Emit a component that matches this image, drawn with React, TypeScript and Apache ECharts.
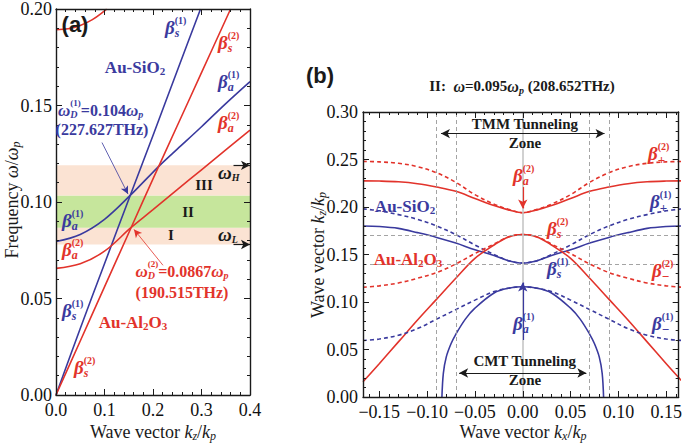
import React, { useEffect, useRef } from 'react';
import * as echarts from 'echarts';

const BLUE = '#3a3a9e';
const RED = '#e2332b';
const INK = '#1a1a1a';
const PEACH = '#fbe3d3';
const GREEN = '#c6e69c';
const SERIF = '"Liberation Serif", "Times New Roman", serif';
const SANS = '"Liberation Sans", Arial, sans-serif';

// ---------- Panel (a): frequency vs kz ----------
const kzBetaS1 = [0, 0.05, 0.1, 0.153, 0.2, 0.25, 0.298];
const wBetaS1 = [0, 0.0345, 0.068, 0.1034, 0.1345, 0.168, 0.2];
const kzBetaS2 = [0, 0.05, 0.1, 0.155, 0.2, 0.25, 0.3, 0.36];
const wBetaS2 = [0, 0.028, 0.056, 0.0868, 0.112, 0.1395, 0.167, 0.2];
const kzBetaA1 = [0, 0.05, 0.1, 0.153, 0.214, 0.25, 0.3, 0.35, 0.4];
const wBetaA1 = [0.0795, 0.0832, 0.091, 0.1034, 0.119, 0.1274, 0.139, 0.151, 0.1624];
const kzBetaA2 = [0, 0.05, 0.1, 0.155, 0.2, 0.25, 0.3, 0.35, 0.4];
const wBetaA2 = [0.0656, 0.068, 0.0745, 0.0868, 0.096, 0.1064, 0.1167, 0.127, 0.1373];
const kzUpper = [0, 0.025, 0.05, 0.075, 0.1, 0.1045];
const wUpper = [0.1893, 0.1898, 0.1915, 0.1945, 0.199, 0.2];
// band edges: omega_L, omega_D(2), omega_D(1), omega_H
const BAND_EDGES = [0.078, 0.0867, 0.1034, 0.119];

// ---------- Panel (b): kz vs kx at omega = 0.095 omega_p ----------
const B_KX = [-0.167, -0.15, -0.13, -0.11, -0.09, -0.07, -0.05, -0.03, -0.015, 0, 0.015, 0.03, 0.05, 0.07, 0.09, 0.11, 0.13, 0.15, 0.167];
const bBetaA2 = [0.2275, 0.2273, 0.2265, 0.2245, 0.221, 0.2165, 0.209, 0.2015, 0.197, 0.194, 0.197, 0.2015, 0.209, 0.2165, 0.221, 0.2245, 0.2265, 0.2273, 0.2275];
const bBetaPlus2 = [0.248, 0.2475, 0.246, 0.2425, 0.236, 0.226, 0.213, 0.203, 0.1975, 0.194, 0.1975, 0.203, 0.213, 0.226, 0.236, 0.2425, 0.246, 0.2475, 0.248];
const bBetaPlus1 = [0.198, 0.196, 0.192, 0.187, 0.18, 0.171, 0.16, 0.15, 0.1435, 0.141, 0.1435, 0.15, 0.16, 0.171, 0.18, 0.187, 0.192, 0.196, 0.198];
const bBetaS1 = [0.18, 0.1795, 0.1775, 0.173, 0.168, 0.162, 0.155, 0.149, 0.1435, 0.141, 0.1435, 0.149, 0.155, 0.162, 0.168, 0.173, 0.1775, 0.1795, 0.18];
const bBetaS2 = [0.016, 0.035, 0.058, 0.081, 0.103, 0.125, 0.146, 0.16, 0.1685, 0.171, 0.1685, 0.16, 0.146, 0.125, 0.103, 0.081, 0.058, 0.035, 0.016];
const bBetaMinus2 = [0.1155, 0.117, 0.12, 0.125, 0.131, 0.14, 0.151, 0.161, 0.1685, 0.171, 0.1685, 0.161, 0.151, 0.14, 0.131, 0.125, 0.12, 0.117, 0.1155];
const bBetaMinus1 = [0.0595, 0.061, 0.065, 0.072, 0.082, 0.092, 0.102, 0.111, 0.1145, 0.116, 0.1145, 0.111, 0.102, 0.092, 0.082, 0.072, 0.065, 0.061, 0.0595];
const B_KX_A1 = [-0.0845, -0.083, -0.08, -0.075, -0.07, -0.06, -0.05, -0.03, -0.015, 0, 0.015, 0.03, 0.05, 0.06, 0.07, 0.075, 0.08, 0.083, 0.0845];
const bBetaA1 = [0, 0.025, 0.042, 0.056, 0.066, 0.082, 0.0935, 0.1095, 0.1145, 0.116, 0.1145, 0.1095, 0.0935, 0.082, 0.066, 0.056, 0.042, 0.025, 0];
const B_VLINES = [-0.0855, -0.0665, 0.0665, 0.0855];
const B_HLINES = [0.171, 0.141];
const B_X_LABELS = [-0.15, -0.1, -0.05, 0, 0.05, 0.1, 0.15];

// ---------- text layout helpers ----------
interface Seg { t: string; size: number; it?: boolean; b?: boolean; dy?: number; ff?: string; }
type Item = Seg | { sup: Seg; sub: Seg };
let ctx2d: CanvasRenderingContext2D | null = null;
function segW(s: Seg) {
  if (!ctx2d) ctx2d = document.createElement('canvas').getContext('2d');
  ctx2d!.font = `${s.it ? 'italic ' : ''}${s.b === false ? '' : 'bold '}${s.size}px ${s.ff || SERIF}`;
  return ctx2d!.measureText(s.t).width;
}
const TOP_Z = 100;
function txt(s: Seg, x: number, color: string) {
  return {
    type: 'text', x, y: s.dy || 0, silent: true, z: TOP_Z,
    style: {
      text: s.t, fill: color, fontSize: s.size, fontFamily: s.ff || SERIF,
      fontStyle: s.it ? 'italic' : 'normal', fontWeight: s.b === false ? 'normal' : 'bold',
      align: 'left', verticalAlign: 'middle', textAlign: 'left', textVerticalAlign: 'middle',
    },
  };
}
function rich(x: number, y: number, items: Item[], color: string, align: 'left' | 'center' = 'left', rotation = 0) {
  const widths = items.map((it) => ('sup' in it ? Math.max(segW(it.sup), segW(it.sub)) : segW(it)));
  const total = widths.reduce((a, b) => a + b, 0);
  let cx = align === 'center' ? -total / 2 : 0;
  const children: any[] = [];
  items.forEach((it, i) => {
    if ('sup' in it) {
      children.push(txt(it.sup, cx, color));
      children.push(txt(it.sub, cx, color));
    } else children.push(txt(it, cx, color));
    cx += widths[i];
  });
  return { type: 'group', x, y, rotation, silent: true, z: TOP_Z, children };
}
function beta(x: number, y: number, sub: string, sup: string, color: string) {
  const subIt = sub !== '+' && sub !== '−';
  return rich(x, y, [
    { t: 'β', size: 19, it: true },
    { sup: { t: sup, size: 10, dy: -7 }, sub: { t: sub, size: subIt ? 12 : 13, it: subIt, dy: 6 } },
  ], color);
}
function plain(x: number, y: number, t: string, color: string, size = 15, ff = SERIF) {
  return rich(x, y, [{ t, size, ff }], color, 'center');
}
function axisName(x: number, y: number, pre: string, a: string, aSub: string, b: string, bSub: string, rotation = 0) {
  return rich(x, y, [
    { t: pre, size: 18, b: false },
    { t: a, size: 18, it: true, b: false },
    { t: aSub, size: 12, it: true, b: false, dy: 4 },
    { t: '/', size: 18, b: false },
    { t: b, size: 18, it: true, b: false },
    { t: bSub, size: 12, it: true, b: false, dy: 4 },
  ], INK, 'center', rotation);
}

function curve(xs: number[], ys: number[], color: string, xi: number, dashed = false) {
  return {
    type: 'line', xAxisIndex: xi, yAxisIndex: xi, data: xs.map((x, i) => [x, ys[i]]),
    smooth: 0.35, showSymbol: false, symbol: 'none', silent: true, z: 3,
    lineStyle: { color, width: 1.6, type: dashed ? [4, 3] : 'solid' },
  };
}

const labelStyle = { fontFamily: SERIF, fontSize: 18, color: '#111' };
function valAxis(grid: number, pos: string, min: number, max: number, interval: number | null, labels: boolean, digits: number, minorSplit: number) {
  const ax: any = {
    type: 'value', gridIndex: grid, position: pos, min, max, z: 5,
    axisLine: { show: true, onZero: false, lineStyle: { color: INK, width: 1.4 } },
    axisTick: { show: true, inside: true, length: 6, lineStyle: { color: INK, width: 1 } },
    minorTick: { show: minorSplit > 0, splitNumber: minorSplit || 5, length: 3, lineStyle: { color: INK, width: 1 } },
    splitLine: { show: false },
    axisLabel: { show: labels, ...labelStyle, margin: pos === 'left' ? 4 : 6, formatter: (v: number) => (v < 0 ? '−' + Math.abs(v).toFixed(digits) : v.toFixed(digits)) },
  };
  if (interval !== null) ax.interval = interval;
  return ax;
}

const MINOR_B: number[] = [];
for (let i = -16; i <= 16; i++) if (i % 5 !== 0) MINOR_B.push(i / 100);

function buildOption(): any {
  const bMain = (pos: string, labels: boolean) => {
    const ax = valAxis(1, pos, -0.167, 0.163, null, labels, 2, 0);
    ax.axisLabel.customValues = B_X_LABELS;
    ax.axisTick.customValues = B_X_LABELS;
    ax.minorTick = { show: false };
    return ax;
  };
  const bMinor = (pos: string) => ({
    type: 'value', gridIndex: 1, position: pos, min: -0.167, max: 0.163, z: 5,
    axisLine: { show: false, onZero: false }, splitLine: { show: false },
    axisLabel: { show: false },
    axisTick: { show: true, inside: true, length: 3, customValues: MINOR_B, lineStyle: { color: INK, width: 1 } },
  });

  const xAxis = [
    valAxis(0, 'bottom', 0, 0.4, 0.1, true, 1, 5),
    valAxis(0, 'top', 0, 0.4, 0.1, false, 1, 5),
    bMain('bottom', true),
    bMain('top', false),
    bMinor('bottom'),
    bMinor('top'),
  ];
  const yAxis = [
    valAxis(0, 'left', 0, 0.2, 0.05, true, 2, 5),
    valAxis(0, 'right', 0, 0.2, 0.05, false, 2, 5),
    valAxis(1, 'left', 0, 0.3, 0.05, true, 2, 5),
    valAxis(1, 'right', 0, 0.3, 0.05, false, 2, 5),
  ];
  yAxis[2].axisLabel.margin = 5;

  const arrowLine = (from: number[], to: number[], color: string, width: number) => [
    { coord: from, lineStyle: { color, width, type: 'solid' } }, { coord: to },
  ];

  const series: any[] = [
    // panel (a) bands + omega_H / omega_L arrows
    {
      type: 'line', xAxisIndex: 0, yAxisIndex: 0, data: [], z: 1, silent: true,
      markArea: {
        silent: true,
        data: [
          [{ yAxis: BAND_EDGES[0], itemStyle: { color: PEACH } }, { yAxis: BAND_EDGES[1] }],
          [{ yAxis: BAND_EDGES[1], itemStyle: { color: GREEN } }, { yAxis: BAND_EDGES[2] }],
          [{ yAxis: BAND_EDGES[2], itemStyle: { color: PEACH } }, { yAxis: BAND_EDGES[3] }],
        ],
      },
      markLine: {
        silent: true, symbol: ['none', 'arrow'], symbolSize: [7, 9], label: { show: false },
        lineStyle: { color: INK, width: 1.2, type: 'solid' },
        data: [
          arrowLine([0.366, BAND_EDGES[3]], [0.4, BAND_EDGES[3]], INK, 1.2),
          arrowLine([0.366, BAND_EDGES[0]], [0.4, BAND_EDGES[0]], INK, 1.2),
        ],
      },
    },
    // panel (a) pointer arrows to omega_D
    {
      type: 'line', xAxisIndex: 0, yAxisIndex: 0, data: [], z: 4, silent: true,
      markLine: {
        silent: true, symbol: ['none', 'arrow'], symbolSize: [6, 8], label: { show: false },
        data: [
          arrowLine([0.0948, 0.1308], [0.1485, 0.1041], BLUE, 0.8),
          arrowLine([0.2206, 0.0672], [0.1608, 0.0858], RED, 0.8),
        ],
      },
    },
    curve(kzBetaS1, wBetaS1, BLUE, 0),
    curve(kzBetaA1, wBetaA1, BLUE, 0),
    curve(kzBetaS2, wBetaS2, RED, 0),
    curve(kzBetaA2, wBetaA2, RED, 0),
    curve(kzUpper, wUpper, RED, 0),
    // panel (b) guide lines
    {
      type: 'line', xAxisIndex: 2, yAxisIndex: 2, data: [], z: 1, silent: true,
      markLine: {
        silent: true, symbol: 'none', label: { show: false },
        lineStyle: { color: '#9a9a9a', width: 0.9, type: [4, 3] },
        data: [
          { xAxis: 0, lineStyle: { color: '#c6c6c6', width: 1.6, type: 'solid' } },
          ...B_VLINES.map((v) => ({ xAxis: v })),
          ...B_HLINES.map((v) => ({ yAxis: v })),
        ],
      },
    },
    // panel (b) zone arrows (double headed)
    {
      type: 'line', xAxisIndex: 2, yAxisIndex: 2, data: [], z: 4, silent: true,
      markLine: {
        silent: true, symbol: ['arrow', 'arrow'], symbolSize: [7, 9], label: { show: false },
        data: [
          arrowLine([B_VLINES[0], 0.2773], [B_VLINES[3], 0.2773], INK, 1.2),
          arrowLine([B_VLINES[1], 0.0253], [B_VLINES[2], 0.0253], INK, 1.2),
        ],
      },
    },
    // panel (b) pointer arrows at kx = 0
    {
      type: 'line', xAxisIndex: 2, yAxisIndex: 2, data: [], z: 4, silent: true,
      markLine: {
        silent: true, symbol: ['none', 'arrow'], symbolSize: [7, 9], label: { show: false },
        data: [
          arrowLine([0, 0.221], [0, 0.1985], RED, 1.2),
          arrowLine([0, 0.06], [0, 0.1205], BLUE, 1.2),
        ],
      },
    },
    curve(B_KX, bBetaPlus2, RED, 2, true),
    curve(B_KX, bBetaA2, RED, 2),
    curve(B_KX, bBetaPlus1, BLUE, 2, true),
    curve(B_KX, bBetaS1, BLUE, 2),
    curve(B_KX, bBetaMinus2, RED, 2, true),
    curve(B_KX, bBetaS2, RED, 2),
    curve(B_KX, bBetaMinus1, BLUE, 2, true),
    curve(B_KX_A1, bBetaA1, BLUE, 2),
  ];

  const graphics: any[] = [
    // panel (a)
    plain(75, 24, '(a)', INK, 22, SANS),
    beta(165, 27, 's', '(1)', BLUE),
    beta(218, 42, 's', '(2)', RED),
    rich(135, 67, [{ t: 'Au-SiO', size: 17 }, { t: '2', size: 11, dy: 4 }], BLUE, 'center'),
    beta(218, 81, 'a', '(1)', BLUE),
    beta(218, 122, 'a', '(2)', RED),
    rich(58, 110, [
      { t: 'ω', size: 17, it: true },
      { sup: { t: '(1)', size: 9, dy: -7 }, sub: { t: 'D', size: 10, it: true, dy: 4 } },
      { t: '=0.104', size: 16 },
      { t: 'ω', size: 17, it: true },
      { t: 'p', size: 10, it: true, dy: 4 },
    ], BLUE),
    plain(102, 129, '(227.627THz)', BLUE, 16),
    beta(62, 220, 'a', '(1)', BLUE),
    beta(62, 249, 'a', '(2)', RED),
    rich(182, 271, [
      { t: 'ω', size: 17, it: true },
      { sup: { t: '(2)', size: 9, dy: -7 }, sub: { t: 'D', size: 10, it: true, dy: 4 } },
      { t: '=0.0867', size: 16 },
      { t: 'ω', size: 17, it: true },
      { t: 'p', size: 10, it: true, dy: 4 },
    ], RED, 'center'),
    plain(182, 292, '(190.515THz)', RED, 16),
    beta(62, 310, 's', '(1)', BLUE),
    rich(133, 322, [{ t: 'Au-Al', size: 17 }, { t: '2', size: 11, dy: 4 }, { t: 'O', size: 17 }, { t: '3', size: 11, dy: 4 }], RED, 'center'),
    beta(74, 367, 's', '(2)', RED),
    rich(218, 172, [{ t: 'ω', size: 19, it: true }, { t: 'H', size: 10, it: true, dy: 5 }], INK),
    rich(218, 234, [{ t: 'ω', size: 19, it: true }, { t: 'L', size: 10, it: true, dy: 5 }], INK),
    plain(204, 185, 'III', INK, 15),
    plain(188, 212, 'II', INK, 15),
    plain(171, 235, 'I', INK, 15),
    axisName(153, 432, 'Wave vector ', 'k', 'z', 'k', 'p'),
    rich(12, 200, [
      { t: 'Frequency ', size: 18, b: false },
      { t: 'ω', size: 18, it: true, b: false },
      { t: '/', size: 18, b: false },
      { t: 'ω', size: 18, it: true, b: false },
      { t: 'p', size: 12, it: true, b: false, dy: 4 },
    ], INK, 'center', Math.PI / 2),
    // panel (b)
    plain(320, 75, '(b)', INK, 22, SANS),
    rich(522, 86, [
      { t: 'II:  ', size: 15 },
      { t: 'ω', size: 16, it: true },
      { t: '=0.095', size: 15 },
      { t: 'ω', size: 16, it: true },
      { t: 'p', size: 10, it: true, dy: 4 },
      { t: ' (208.652THz)', size: 15 },
    ], INK, 'center'),
    plain(525, 124, 'TMM Tunneling', INK, 15),
    plain(525, 143, 'Zone', INK, 15),
    plain(525, 361, 'CMT Tunneling', INK, 15),
    plain(525, 380, 'Zone', INK, 15),
    beta(648, 153, '+', '(2)', RED),
    beta(513, 175, 'a', '(2)', RED),
    rich(405, 206, [{ t: 'Au-SiO', size: 17 }, { t: '2', size: 11, dy: 4 }], BLUE, 'center'),
    beta(650, 201, '+', '(1)', BLUE),
    beta(547, 228, 's', '(2)', RED),
    rich(408, 259, [{ t: 'Au-Al', size: 17 }, { t: '2', size: 11, dy: 4 }, { t: 'O', size: 17 }, { t: '3', size: 11, dy: 4 }], RED, 'center'),
    beta(547, 268, 's', '(1)', BLUE),
    beta(652, 270, '−', '(2)', RED),
    beta(513, 323, 'a', '(1)', BLUE),
    beta(652, 323, '−', '(1)', BLUE),
    axisName(523, 432, 'Wave vector ', 'k', 'x', 'k', 'p'),
    axisName(318, 255, 'Wave vector ', 'k', 'z', 'k', 'p', Math.PI / 2),
  ];

  return {
    animation: false,
    backgroundColor: '#ffffff',
    grid: [
      { left: 56, top: 5, width: 194, height: 390, show: false },
      { left: 363, top: 112, width: 321, height: 285, show: false },
    ],
    xAxis,
    yAxis,
    series,
    graphic: { elements: graphics },
  };
}

export default function App() {
  const ref = useRef<HTMLDivElement>(null);
  useEffect(() => {
    if (!ref.current) return;
    const chart = echarts.init(ref.current, undefined, { renderer: 'svg' });
    chart.setOption(buildOption());
    return () => chart.dispose();
  }, []);
  return <div ref={ref} style={{ position: 'fixed', left: 0, top: 0, width: 685, height: 444, background: '#fff' }} />;
}
